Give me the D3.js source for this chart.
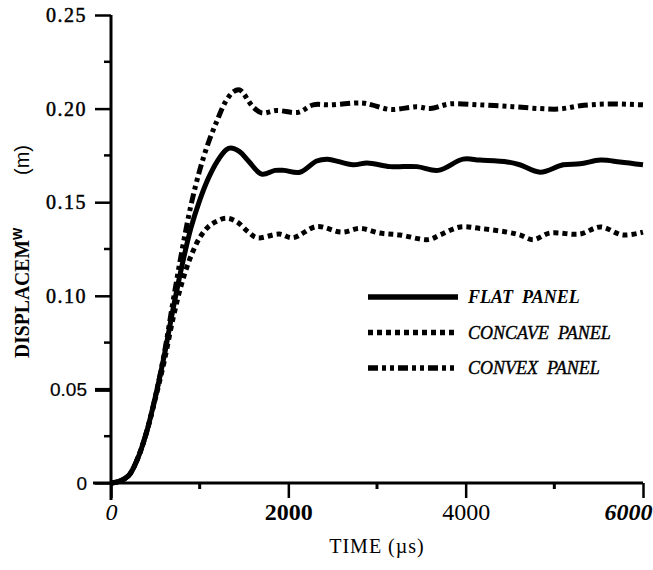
<!DOCTYPE html>
<html>
<head>
<meta charset="utf-8">
<script src="https://cdn.jsdelivr.net/npm/d3@7"></script>
<style>
  body { margin: 0; background: #fff; }
  svg { display: block; }
</style>
</head>
<body>
<svg id="chart" width="653" height="570"></svg>
<script>
// time in microseconds, displacement in metres
const flatT   = [0, 100, 200, 300, 400, 500, 600, 700, 800, 900, 1000, 1100, 1200, 1300, 1350, 1450, 1550, 1700, 1850, 1950, 2130, 2320, 2440, 2730, 2890, 3150, 3450, 3690, 3970, 4160, 4470, 4610, 4840, 5100, 5290, 5520, 5740, 6000];
const flatV   = [0, 0.001, 0.004, 0.013, 0.027, 0.046, 0.068, 0.093, 0.116, 0.136, 0.151, 0.163, 0.172, 0.178, 0.179, 0.177, 0.172, 0.165, 0.167, 0.167, 0.166, 0.172, 0.173, 0.170, 0.171, 0.169, 0.169, 0.167, 0.173, 0.1725, 0.1715, 0.170, 0.166, 0.170, 0.1705, 0.1725, 0.1715, 0.170];

const concaveT = [0, 100, 200, 300, 400, 500, 600, 700, 800, 900, 1000, 1100, 1200, 1300, 1420, 1550, 1650, 1900, 2050, 2320, 2600, 2810, 3030, 3260, 3580, 3710, 3940, 4160, 4470, 4610, 4760, 4950, 5290, 5520, 5770, 6000];
const concaveV = [0, 0.001, 0.004, 0.013, 0.027, 0.045, 0.065, 0.088, 0.107, 0.121, 0.131, 0.137, 0.140, 0.1415, 0.1395, 0.134, 0.131, 0.133, 0.131, 0.137, 0.134, 0.136, 0.1335, 0.1325, 0.130, 0.1325, 0.1368, 0.136, 0.134, 0.1325, 0.130, 0.1335, 0.133, 0.1368, 0.1325, 0.134];

const convexT = [0, 100, 200, 300, 400, 500, 600, 700, 800, 900, 1000, 1100, 1200, 1290, 1380, 1450, 1600, 1700, 1870, 2110, 2280, 2470, 2830, 2940, 3150, 3450, 3600, 3820, 4160, 4530, 4840, 5060, 5290, 5590, 6000];
const convexV = [0, 0.001, 0.004, 0.013, 0.027, 0.046, 0.069, 0.097, 0.124, 0.148, 0.167, 0.182, 0.194, 0.2035, 0.209, 0.210, 0.201, 0.1977, 0.199, 0.198, 0.202, 0.202, 0.203, 0.202, 0.1995, 0.201, 0.200, 0.2025, 0.202, 0.201, 0.200, 0.1998, 0.2015, 0.2025, 0.202];

const xTicks = [0, 2000, 4000, 6000];
const xTickLabels = ["0", "2000", "4000", "6000"];
const xMinorTicks = [1000, 3000, 5000];
const yTicks = [0, 0.05, 0.10, 0.15, 0.20, 0.25];
const yTickLabels = ["0", "0.05", "0.10", "0.15", "0.20", "0.25"];
const yMinorTicks = [0.025, 0.075, 0.125, 0.175, 0.225];

const seriesNames = ["FLAT  PANEL", "CONCAVE  PANEL", "CONVEX  PANEL"];

const svg = d3.select("#chart");
const serif = "'Liberation Serif', 'Times New Roman', serif";
const sans = "'Liberation Sans', Arial, sans-serif";

const x = d3.scaleLinear().domain([0, 6000]).range([111, 643]);
const y = d3.scaleLinear().domain([0, 0.25]).range([483, 15]);

// line look for each series
const looks = [
  {width: 5, dash: null},
  {width: 5, dash: "5,4"},
  {width: 5, dash: "10,4,4,4,4,4"}
];

const series = [
  flatT.map((t, i) => ({t: t, v: flatV[i]})),
  concaveT.map((t, i) => ({t: t, v: concaveV[i]})),
  convexT.map((t, i) => ({t: t, v: convexV[i]}))
];

const line = d3.line()
  .x(d => x(d.t))
  .y(d => y(d.v))
  .curve(d3.curveCatmullRom.alpha(0.5));

svg.append("g")
  .selectAll("path")
  .data(series)
  .join("path")
  .attr("d", line)
  .attr("fill", "none")
  .attr("stroke", "#000")
  .attr("stroke-width", (d, i) => looks[i].width)
  .attr("stroke-dasharray", (d, i) => looks[i].dash)
  .attr("stroke-linejoin", "round");

// y axis
const yAxis = svg.append("g")
  .attr("transform", `translate(${x(0)},0)`)
  .call(d3.axisLeft(y).tickValues(yTicks).tickSize(16)
    .tickFormat((d, i) => yTickLabels[i]));
yAxis.select(".domain").remove();
yAxis.selectAll(".tick line")
  .attr("stroke-width", d => d === 0.05 ? 4 : 2.5);
yAxis.selectAll(".tick text")
  .attr("x", -24)
  .attr("fill", "#000")
  .attr("stroke", "#000")
  .attr("stroke-width", d => d <= 0.05 ? 0.2 : 0.5)
  .style("font-family", d => d <= 0.05 ? sans : serif)
  .style("font-size", d => d <= 0.05 ? "19px" : "20px")
  .style("letter-spacing", d => d <= 0.05 ? "0px" : "1.5px");

svg.append("g")
  .selectAll("line")
  .data(yMinorTicks)
  .join("line")
  .attr("x1", x(0) - 7)
  .attr("x2", x(0))
  .attr("y1", d => y(d))
  .attr("y2", d => y(d))
  .attr("stroke", "#000")
  .attr("stroke-width", 2.5);

svg.append("line")
  .attr("x1", x(0)).attr("x2", x(0))
  .attr("y1", y(0.25)).attr("y2", y(0) + 17)
  .attr("stroke", "#000").attr("stroke-width", 3);

// x axis
const xAxis = svg.append("g")
  .attr("transform", `translate(0,${y(0)})`)
  .call(d3.axisBottom(x).tickValues(xTicks).tickSize(15)
    .tickFormat((d, i) => xTickLabels[i]));
xAxis.select(".domain").remove();
xAxis.selectAll(".tick line").attr("stroke-width", 2.5);
const xLabelStyle = [
  {style: "italic", weight: "normal"},
  {style: "normal", weight: "bold"},
  {style: "normal", weight: "normal"},
  {style: "italic", weight: "bold"}
];
xAxis.selectAll(".tick text")
  .attr("y", 20)
  .attr("dy", "0.71em")
  .attr("fill", "#000")
  .attr("text-anchor", (d, i) => i === 3 ? "end" : "middle")
  .attr("dx", (d, i) => i === 3 ? 9 : 0)
  .style("font-family", serif)
  .style("font-size", "24px")
  .style("font-style", (d, i) => xLabelStyle[i].style)
  .style("font-weight", (d, i) => xLabelStyle[i].weight);

svg.append("g")
  .selectAll("line")
  .data(xMinorTicks)
  .join("line")
  .attr("x1", d => x(d))
  .attr("x2", d => x(d))
  .attr("y1", y(0))
  .attr("y2", y(0) + 6)
  .attr("stroke", "#000")
  .attr("stroke-width", 3);

svg.append("line")
  .attr("x1", x(0) - 18).attr("x2", x(6000))
  .attr("y1", y(0)).attr("y2", y(0))
  .attr("stroke", "#000").attr("stroke-width", 3);

// axis titles
svg.append("text")
  .attr("x", (x(0) + x(6000)) / 2)
  .attr("y", 553)
  .attr("text-anchor", "middle")
  .style("font-family", serif)
  .style("font-size", "20px")
  .style("letter-spacing", "1px")
  .text("TIME (\u00b5s)");

const yTitle = svg.append("text")
  .attr("transform", "translate(29,358) rotate(-90)")
  .style("font-family", serif)
  .style("font-size", "22px")
  .style("font-weight", "bold");
yTitle.append("tspan").text("DISPLACEM")
  .attr("textLength", 118).attr("lengthAdjust", "spacingAndGlyphs");
yTitle.append("tspan").text("W")
  .style("font-family", sans)
  .style("font-size", "13px")
  .attr("dy", -7);
yTitle.append("tspan").text("(m)")
  .attr("x", 183)
  .attr("dy", 7)
  .style("font-family", sans)
  .style("font-weight", "normal")
  .style("font-size", "20px");

// legend
const legend = svg.append("g")
  .selectAll("g")
  .data(seriesNames)
  .join("g")
  .attr("transform", (d, i) => `translate(368,${297 + i * 35.5})`);
legend.append("line")
  .attr("x1", 0).attr("x2", 90)
  .attr("stroke", "#000")
  .attr("stroke-width", (d, i) => looks[i].width + 0.5)
  .attr("stroke-dasharray", (d, i) => looks[i].dash);
legend.append("text")
  .attr("x", 100)
  .attr("y", 6)
  .style("font-family", serif)
  .style("font-size", "18px")
  .style("font-style", "italic")
  .style("font-weight", (d, i) => i === 0 ? "bold" : "normal")
  .style("white-space", "pre")
  .attr("stroke", (d, i) => i === 0 ? "none" : "#000")
  .attr("stroke-width", 0.4)
  .text(d => d);
</script>
</body>
</html>
